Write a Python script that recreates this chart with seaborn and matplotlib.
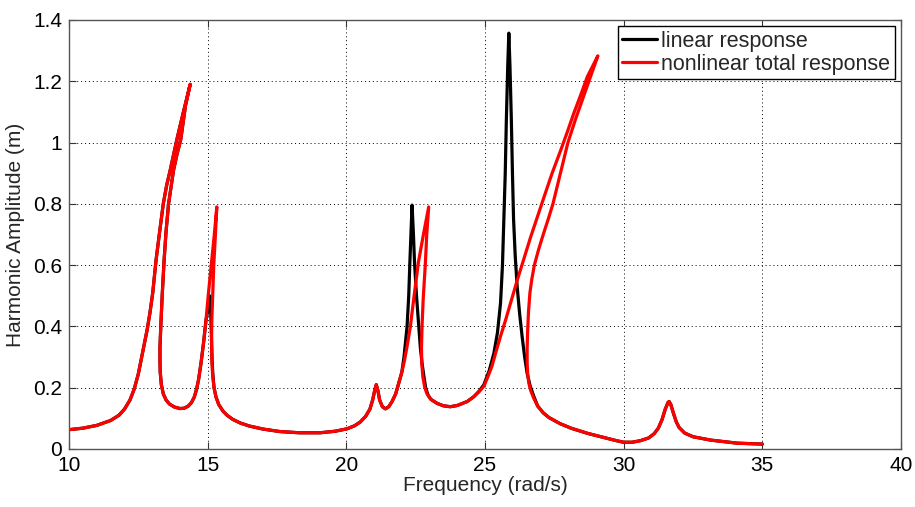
import matplotlib

matplotlib.use("Agg")

import matplotlib.pyplot as plt
import pandas as pd
import seaborn as sns
from matplotlib.ticker import FormatStrFormatter

# nonlinear total response: (freq, amp) in path order, it folds back on itself
red_pts = [
    (10.0, 0.063), (10.5, 0.068), (11.0, 0.077), (11.5, 0.093), (11.8, 0.11),
    (12.0, 0.13), (12.2, 0.16), (12.35, 0.195), (12.5, 0.245), (12.62, 0.30),
    (12.72, 0.345), (12.82, 0.39), (12.92, 0.445), (13.02, 0.51), (13.14, 0.617),
    (13.27, 0.71), (13.4, 0.80), (13.52, 0.86), (13.65, 0.91), (13.89, 1.01),
    (14.1, 1.09), (14.25, 1.145), (14.37, 1.19),
    (14.2, 1.12), (14.03, 1.01), (13.89, 0.96), (13.77, 0.91), (13.59, 0.80),
    (13.5, 0.71), (13.43, 0.617), (13.36, 0.50), (13.31, 0.40), (13.28, 0.33),
    (13.28, 0.29), (13.29, 0.25), (13.33, 0.21), (13.4, 0.18), (13.5, 0.16),
    (13.62, 0.147), (13.8, 0.137), (14.0, 0.132), (14.15, 0.133), (14.3, 0.14),
    (14.42, 0.152), (14.52, 0.17), (14.6, 0.195), (14.67, 0.225), (14.76, 0.28),
    (14.85, 0.345), (14.94, 0.42), (15.03, 0.51), (15.15, 0.617), (15.24, 0.70),
    (15.33, 0.79),
    (15.28, 0.70), (15.22, 0.60), (15.18, 0.50), (15.15, 0.42), (15.14, 0.35),
    (15.15, 0.29), (15.18, 0.24), (15.23, 0.20), (15.3, 0.17), (15.4, 0.145),
    (15.55, 0.124), (15.7, 0.11), (15.9, 0.097), (16.17, 0.085), (16.5, 0.075),
    (17.0, 0.065), (17.6, 0.057), (18.3, 0.053), (19.06, 0.053), (19.6, 0.058),
    (20.03, 0.066), (20.3, 0.076), (20.5, 0.088), (20.7, 0.107), (20.85, 0.13),
    (20.95, 0.16), (21.02, 0.19), (21.08, 0.21), (21.14, 0.19), (21.2, 0.16),
    (21.3, 0.138), (21.41, 0.131), (21.53, 0.138), (21.65, 0.155), (21.78, 0.18),
    (21.89, 0.215), (22.0, 0.25), (22.1, 0.29), (22.2, 0.34), (22.31, 0.40),
    (22.43, 0.49), (22.6, 0.61), (22.78, 0.70), (22.97, 0.79),
    (22.9, 0.70), (22.85, 0.606), (22.77, 0.487), (22.73, 0.40), (22.71, 0.33),
    (22.72, 0.28), (22.76, 0.235), (22.83, 0.20), (22.91, 0.18), (23.05, 0.162),
    (23.27, 0.149), (23.5, 0.141), (23.75, 0.138), (24.0, 0.142), (24.36, 0.155),
    (24.6, 0.171), (24.8, 0.188), (24.96, 0.205), (25.1, 0.235), (25.25, 0.27),
    (25.38, 0.312), (25.55, 0.365), (25.74, 0.42), (25.95, 0.485), (26.16, 0.55),
    (26.4, 0.62), (26.64, 0.69), (26.88, 0.755), (27.12, 0.82), (27.42, 0.9),
    (27.73, 0.975), (27.97, 1.035), (28.2, 1.095), (28.45, 1.155), (28.69, 1.215),
    (29.07, 1.283),
    (28.55, 1.15), (28.26, 1.075), (27.99, 1.0), (27.72, 0.9), (27.45, 0.8),
    (27.28, 0.75), (27.1, 0.70), (26.93, 0.65), (26.78, 0.60), (26.69, 0.555),
    (26.62, 0.51), (26.57, 0.45), (26.54, 0.39), (26.52, 0.33), (26.52, 0.28),
    (26.54, 0.245), (26.58, 0.215), (26.65, 0.19), (26.76, 0.165), (26.9, 0.14),
    (27.1, 0.118), (27.3, 0.103), (27.7, 0.083), (28.1, 0.068), (28.7, 0.051),
    (29.3, 0.037), (29.7, 0.028), (30.0, 0.022), (30.3, 0.022), (30.6, 0.027),
    (30.9, 0.036), (31.1, 0.05), (31.25, 0.068), (31.38, 0.095), (31.5, 0.13),
    (31.6, 0.152), (31.64, 0.155), (31.7, 0.145), (31.8, 0.115), (31.9, 0.088),
    (32.0, 0.07), (32.2, 0.052), (32.5, 0.04), (33.14, 0.029), (34.1, 0.019),
    (35.0, 0.016),
]

# linear response: hidden under the red curve except at its three sharp peaks
black_pts = [
    (10.0, 0.063), (10.5, 0.068), (11.0, 0.077), (11.5, 0.093), (11.8, 0.11),
    (12.0, 0.13), (12.2, 0.16), (12.35, 0.195), (12.5, 0.245), (12.62, 0.30),
    (12.72, 0.345), (12.82, 0.39), (12.92, 0.445), (13.02, 0.51), (13.14, 0.617),
    (13.27, 0.71), (13.4, 0.80), (13.52, 0.86), (13.65, 0.91), (13.89, 1.01),
    (14.1, 1.09), (14.25, 1.145), (14.37, 1.19),
    (14.2, 1.12), (14.03, 1.01), (13.89, 0.96), (13.77, 0.91), (13.59, 0.80),
    (13.5, 0.71), (13.43, 0.617), (13.36, 0.50), (13.31, 0.40), (13.28, 0.33),
    (13.28, 0.29), (13.29, 0.25), (13.33, 0.21), (13.4, 0.18), (13.5, 0.16),
    (13.62, 0.147), (13.8, 0.137), (14.0, 0.132), (14.15, 0.133), (14.3, 0.14),
    (14.42, 0.152), (14.52, 0.17), (14.6, 0.195), (14.67, 0.225), (14.76, 0.28),
    (14.85, 0.345), (14.94, 0.42), (15.02, 0.46), (15.07, 0.50), (15.11, 0.45),
    (15.14, 0.36), (15.16, 0.29), (15.19, 0.24), (15.23, 0.20), (15.3, 0.17),
    (15.4, 0.145), (15.55, 0.124), (15.7, 0.11), (15.9, 0.097), (16.17, 0.085),
    (16.5, 0.075), (17.0, 0.065), (17.6, 0.057), (18.3, 0.053), (19.06, 0.053),
    (19.6, 0.058), (20.03, 0.066), (20.3, 0.076), (20.5, 0.088), (20.7, 0.107),
    (20.85, 0.13), (20.95, 0.16), (21.02, 0.19), (21.08, 0.21), (21.14, 0.19),
    (21.2, 0.16), (21.3, 0.138), (21.41, 0.131), (21.53, 0.138), (21.65, 0.155),
    (21.78, 0.18), (21.89, 0.215), (22.0, 0.25), (22.08, 0.30), (22.19, 0.40),
    (22.25, 0.50), (22.29, 0.606), (22.33, 0.70), (22.37, 0.796), (22.42, 0.70),
    (22.46, 0.606), (22.53, 0.50), (22.61, 0.40), (22.67, 0.33), (22.73, 0.28),
    (22.8, 0.235), (22.86, 0.20), (22.95, 0.175), (23.05, 0.162), (23.27, 0.149),
    (23.5, 0.141), (23.75, 0.138), (24.0, 0.142), (24.36, 0.155), (24.6, 0.171),
    (24.8, 0.19), (24.96, 0.21), (25.15, 0.255), (25.32, 0.312), (25.45, 0.38),
    (25.56, 0.476), (25.63, 0.60), (25.68, 0.747), (25.73, 0.90), (25.77, 1.074),
    (25.82, 1.25), (25.86, 1.357), (25.9, 1.25), (25.95, 1.074), (25.99, 0.90),
    (26.03, 0.75), (26.09, 0.63), (26.16, 0.53), (26.25, 0.44), (26.34, 0.366),
    (26.43, 0.30), (26.52, 0.247), (26.63, 0.205), (26.76, 0.172), (26.9, 0.14),
    (27.1, 0.118), (27.3, 0.103), (27.7, 0.083), (28.1, 0.068), (28.7, 0.051),
    (29.3, 0.037), (29.7, 0.028), (30.0, 0.022), (30.3, 0.022), (30.6, 0.027),
    (30.9, 0.036), (31.1, 0.05), (31.25, 0.068), (31.38, 0.095), (31.5, 0.13),
    (31.6, 0.152), (31.64, 0.155), (31.7, 0.145), (31.8, 0.115), (31.9, 0.088),
    (32.0, 0.07), (32.2, 0.052), (32.5, 0.04), (33.14, 0.029), (34.1, 0.019),
    (35.0, 0.016),
]

x_ticks = [10, 15, 20, 25, 30, 35, 40]
y_ticks = [0, 0.2, 0.4, 0.6, 0.8, 1.0, 1.2, 1.4]

sns.set_theme(style="ticks")
plt.rcParams["font.family"] = ["Liberation Sans", "DejaVu Sans"]

fig = plt.figure(figsize=(9.15, 5.07), dpi=100)
ax = fig.add_axes([0.0754, 0.1144, 0.9093, 0.8462])

black_df = pd.DataFrame(black_pts, columns=["freq", "amp"])
red_df = pd.DataFrame(red_pts, columns=["freq", "amp"])

sns.lineplot(data=black_df, x="freq", y="amp", sort=False, estimator=None,
             color="black", linewidth=2.3, label="linear response", ax=ax)
sns.lineplot(data=red_df, x="freq", y="amp", sort=False, estimator=None,
             color="#ff0000", linewidth=2.3, label="nonlinear total response", ax=ax)
for line in ax.get_lines():
    line.set_solid_joinstyle("round")

ax.set_xlim(10, 40)
ax.set_ylim(0, 1.4)
ax.set_xticks(x_ticks)
ax.set_yticks(y_ticks)
ax.yaxis.set_major_formatter(FormatStrFormatter("%g"))
ax.grid(True, linestyle=(0, (1, 3)), color="black", linewidth=0.7)
ax.tick_params(direction="in", length=5, width=0.8, labelsize=15, colors="#333333",
               top=True, right=True, pad=5)
ax.tick_params(labelcolor="black")
for s in ax.spines.values():
    s.set_color("#555555")
    s.set_linewidth(1.0)

ax.set_xlabel("Frequency (rad/s)", fontsize=15, labelpad=1)
ax.set_ylabel("Harmonic Amplitude (m)", fontsize=15, labelpad=6)

leg = ax.legend(loc="upper right", fontsize=15.5, frameon=True, fancybox=False,
                edgecolor="black", handlelength=1.6, handletextpad=0.2,
                borderpad=0.2, labelspacing=0.1, borderaxespad=0.3)
leg.get_frame().set_linewidth(1.0)
leg.get_frame().set_alpha(1)

fig.savefig("out.png", dpi=100)
